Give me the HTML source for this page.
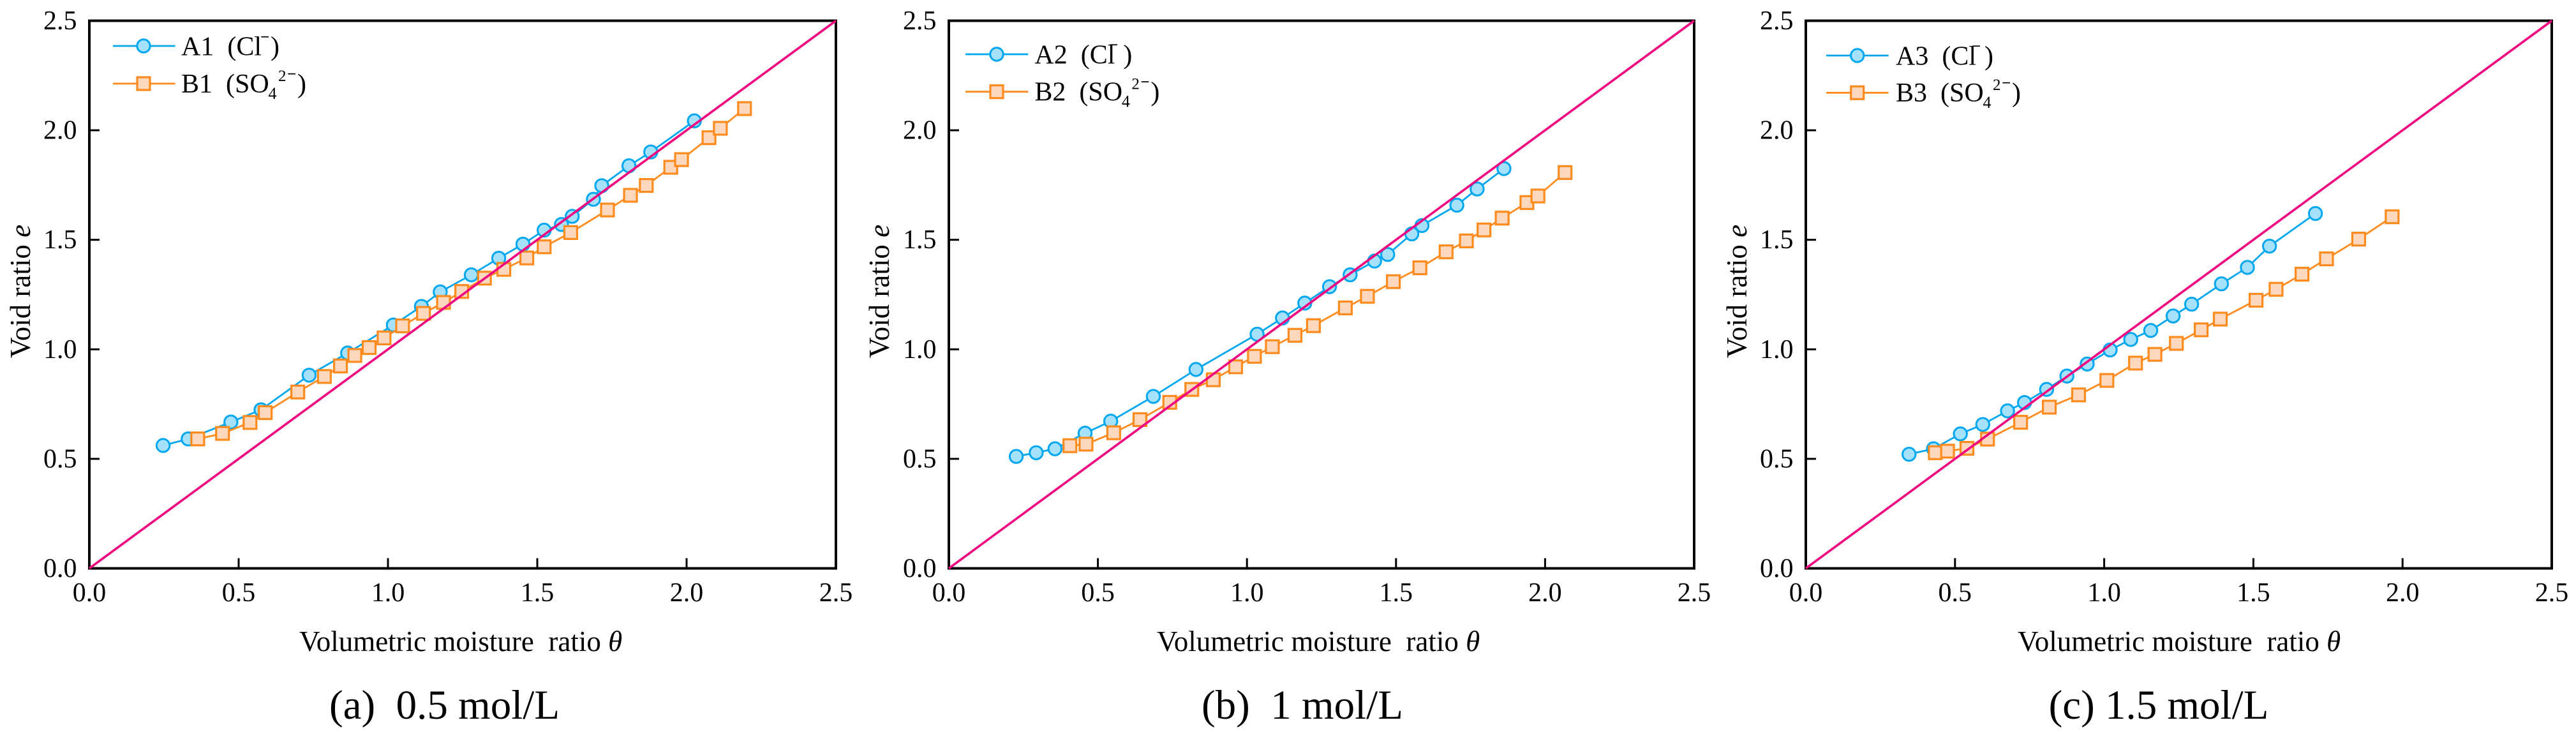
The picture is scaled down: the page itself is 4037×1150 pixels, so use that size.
<!DOCTYPE html>
<html lang="en">
<head>
<meta charset="utf-8">
<title>Void ratio vs volumetric moisture ratio</title>
<style>
html,body{margin:0;padding:0;background:#fff;}
svg{display:block;}
text{font-family:"Liberation Serif",serif;fill:#000;white-space:pre;}
.tick{font-size:42px;}
.axt{font-size:45px;}
.cap{font-size:65px;}
.leg{font-size:42px;}
.sub{font-size:26px;}
.sup{font-size:25px;}
.minus{font-size:25px;font-weight:bold;}
.frame{fill:none;stroke:#000;stroke-width:4;}
.lb{stroke:#00a7ee;stroke-width:2.8;fill:none;}
.lo{stroke:#ff8b1f;stroke-width:2.8;fill:none;}
.mb{fill:#a6e1fb;stroke:#00a7ee;stroke-width:3;}
.mo{fill:#fed8bc;stroke:#ff8b1f;stroke-width:3.2;}
</style>
</head>
<body>
<svg id="figure" xmlns="http://www.w3.org/2000/svg" width="4037" height="1150" viewBox="0 0 4037 1150">
  <rect x="0" y="0" width="4037" height="1150" fill="#fff"/>

  <!-- Panel a -->
  <g id="panel-a">
    <rect class="frame" x="140" y="32.5" width="1170" height="858"/>
    <text class="axt" transform="translate(47,561) rotate(-90)">Void ratio <tspan font-style="italic">e</tspan></text>
    <text class="axt" x="469" y="1020">Volumetric moisture  ratio <tspan font-style="italic">θ</tspan></text>
    <text class="cap" x="516" y="1126">(a)  0.5 mol/L</text>
  </g>
  <g>
    <line class="lb" x1="177" y1="72" x2="274.5" y2="72"/>
    <circle class="mb" cx="225" cy="72" r="10.2"/>
    <text class="leg" x="284" y="86.7">A1  (Cl<tspan class="minus" x="408" y="66">−</tspan><tspan x="424" y="86.7">)</tspan></text>
    <line class="lo" x1="177" y1="131" x2="274.5" y2="131"/>
    <rect class="mo" x="215" y="121" width="20" height="20"/>
    <text class="leg" x="284" y="145">B1  (SO<tspan class="sub" x="420.5" y="155">4</tspan><tspan class="sup" x="436" y="127">2</tspan><tspan class="minus" x="450" y="124">−</tspan><tspan x="466" y="145">)</tspan></text>
  </g>

  <!-- Panel b -->
  <g id="panel-b">
    <rect class="frame" x="1487" y="32.5" width="1168" height="858"/>
    <text class="axt" transform="translate(1393,561) rotate(-90)">Void ratio <tspan font-style="italic">e</tspan></text>
    <text class="axt" x="1813" y="1020">Volumetric moisture  ratio <tspan font-style="italic">θ</tspan></text>
    <text class="cap" x="1883" y="1126">(b)  1 mol/L</text>
  </g>
  <g>
    <line class="lb" x1="1513" y1="85" x2="1611.4" y2="85"/>
    <circle class="mb" cx="1562" cy="85" r="10.2"/>
    <text class="leg" x="1621.4" y="99.3">A2  (Cl<tspan class="minus" x="1738" y="78.5">−</tspan><tspan x="1760.4" y="99.3">)</tspan></text>
    <line class="lo" x1="1513" y1="143.7" x2="1611.4" y2="143.7"/>
    <rect class="mo" x="1552" y="133.7" width="20" height="20"/>
    <text class="leg" x="1621.4" y="157.7">B2  (SO<tspan class="sub" x="1757.9" y="167.7">4</tspan><tspan class="sup" x="1773.4" y="139.7">2</tspan><tspan class="minus" x="1787.4" y="136.7">−</tspan><tspan x="1803.4" y="157.7">)</tspan></text>
  </g>

  <!-- Panel c -->
  <g id="panel-c">
    <rect class="frame" x="2830" y="32.5" width="1169" height="858"/>
    <text class="axt" transform="translate(2737,561) rotate(-90)">Void ratio <tspan font-style="italic">e</tspan></text>
    <text class="axt" x="3162" y="1020">Volumetric moisture  ratio <tspan font-style="italic">θ</tspan></text>
    <text class="cap" x="3210.6" y="1126">(c) 1.5 mol/L</text>
  </g>
  <g>
    <line class="lb" x1="2862" y1="87" x2="2959.6" y2="87"/>
    <circle class="mb" cx="2910.7" cy="87" r="10.2"/>
    <text class="leg" x="2971" y="101.3">A3  (Cl<tspan class="minus" x="3090" y="80.5">−</tspan><tspan x="3110" y="101.3">)</tspan></text>
    <line class="lo" x1="2862" y1="145.3" x2="2959.6" y2="145.3"/>
    <rect class="mo" x="2900.7" y="135.3" width="20" height="20"/>
    <text class="leg" x="2971" y="159">B3  (SO<tspan class="sub" x="3107.5" y="169">4</tspan><tspan class="sup" x="3123" y="141">2</tspan><tspan class="minus" x="3137" y="138">−</tspan><tspan x="3153" y="159">)</tspan></text>
  </g>
</svg>

<script>
// Axis tick values and labels (shared by all three panels)
const tickValues = [0, 0.5, 1.0, 1.5, 2.0, 2.5];
const tickLabels = ['0.0', '0.5', '1.0', '1.5', '2.0', '2.5'];
const axisMin = 0;
const axisMax = 2.5;

// Reference line (theta = e)
const refTheta = [0, 2.5];
const refVoid = [0, 2.5];

// Panel (a) 0.5 mol/L
const a1Theta = [0.247,0.331,0.474,0.575,0.736,0.865,1.018,1.112,1.175,1.279,1.371,1.452,1.523,1.581,1.617,1.688,1.716,1.807,1.880,2.026];
const a1Void  = [0.561,0.591,0.668,0.724,0.882,0.983,1.111,1.196,1.262,1.340,1.416,1.480,1.544,1.570,1.607,1.685,1.747,1.838,1.901,2.043];
const b1Theta = [0.363,0.446,0.538,0.589,0.698,0.787,0.841,0.889,0.937,0.987,1.049,1.119,1.186,1.247,1.323,1.388,1.465,1.523,1.612,1.735,1.812,1.865,1.947,1.983,2.075,2.113,2.194];
const b1Void  = [0.591,0.616,0.666,0.711,0.805,0.876,0.924,0.972,1.008,1.052,1.107,1.164,1.214,1.264,1.325,1.365,1.417,1.468,1.533,1.636,1.703,1.748,1.831,1.866,1.966,2.009,2.099];

// Panel (b) 1 mol/L
const a2Theta = [0.226,0.293,0.356,0.457,0.543,0.686,0.829,1.034,1.119,1.194,1.277,1.346,1.428,1.472,1.553,1.587,1.704,1.772,1.862];
const a2Void  = [0.511,0.528,0.546,0.617,0.672,0.785,0.908,1.069,1.143,1.211,1.286,1.340,1.403,1.433,1.527,1.565,1.658,1.732,1.825];
const b2Theta = [0.406,0.460,0.553,0.641,0.741,0.815,0.887,0.962,1.025,1.085,1.161,1.223,1.330,1.404,1.491,1.580,1.668,1.736,1.795,1.856,1.939,1.976,2.067];
const b2Void  = [0.560,0.567,0.619,0.679,0.758,0.817,0.861,0.920,0.968,1.012,1.064,1.108,1.189,1.242,1.309,1.372,1.445,1.495,1.545,1.599,1.670,1.700,1.807];

// Panel (c) 1.5 mol/L
const a3Theta = [0.346,0.428,0.518,0.593,0.676,0.733,0.807,0.875,0.943,1.020,1.089,1.156,1.231,1.293,1.393,1.480,1.554,1.708];
const a3Void  = [0.521,0.546,0.614,0.657,0.719,0.757,0.817,0.878,0.933,0.997,1.045,1.086,1.152,1.206,1.299,1.374,1.471,1.620];
const b3Theta = [0.434,0.475,0.540,0.609,0.720,0.816,0.914,1.009,1.105,1.170,1.242,1.325,1.389,1.509,1.576,1.663,1.745,1.853,1.965];
const b3Void  = [0.528,0.535,0.548,0.590,0.667,0.736,0.792,0.858,0.937,0.977,1.027,1.089,1.138,1.224,1.274,1.343,1.413,1.503,1.605];

const NS = 'http://www.w3.org/2000/svg';

function yAt(v) {
  const top = 32.5, bottom = 890.5;
  return bottom - (v - axisMin) / (axisMax - axisMin) * (bottom - top);
}
function xScale(left, width) {
  return function (v) { return left + (v - axisMin) / (axisMax - axisMin) * width; };
}
function make(tag, parent) {
  const el = document.createElementNS(NS, tag);
  parent.appendChild(el);
  return el;
}

function drawAxes(group, xAt, id) {
  const left = xAt(axisMin);
  for (let i = 0; i < tickValues.length; i++) {
    const v = tickValues[i];
    const xLabel = make('text', group);
    xLabel.setAttribute('class', 'tick');
    xLabel.setAttribute('x', xAt(v));
    xLabel.setAttribute('y', 942);
    xLabel.setAttribute('text-anchor', 'middle');
    xLabel.textContent = tickLabels[i];
    
    

    const yLabel = make('text', group);
    yLabel.setAttribute('class', 'tick');
    yLabel.setAttribute('x', left - 19.5);
    yLabel.setAttribute('y', yAt(v) + 13.5);
    yLabel.setAttribute('text-anchor', 'end');
    yLabel.textContent = tickLabels[i];
    
    

    if (v > axisMin && v < axisMax) {
      const xTick = make('line', group);
      xTick.setAttribute('x1', xAt(v));
      xTick.setAttribute('x2', xAt(v));
      xTick.setAttribute('y1', yAt(axisMin));
      xTick.setAttribute('y2', yAt(axisMin) - 16);
      xTick.setAttribute('stroke', '#000');
      xTick.setAttribute('stroke-width', '3');
      
      

      const yTick = make('line', group);
      yTick.setAttribute('x1', left);
      yTick.setAttribute('x2', left + 16);
      yTick.setAttribute('y1', yAt(v));
      yTick.setAttribute('y2', yAt(v));
      yTick.setAttribute('stroke', '#000');
      yTick.setAttribute('stroke-width', '3');
      
      
    }
  }
}

function linePoints(xs, ys, xAt) {
  return xs.map(function (v, i) { return xAt(v).toFixed(1) + ',' + yAt(ys[i]).toFixed(1); }).join(' ');
}

function drawCircleSeries(group, xs, ys, xAt, name) {
  const line = make('polyline', group);
  line.setAttribute('class', 'lb');
  line.setAttribute('points', linePoints(xs, ys, xAt));
  
  
  for (let i = 0; i < xs.length; i++) {
    const c = make('circle', group);
    c.setAttribute('class', 'mb');
    c.setAttribute('cx', xAt(xs[i]));
    c.setAttribute('cy', yAt(ys[i]));
    c.setAttribute('r', 10.2);
    
    
  }
}

function drawSquareSeries(group, xs, ys, xAt, name) {
  const line = make('polyline', group);
  line.setAttribute('class', 'lo');
  line.setAttribute('points', linePoints(xs, ys, xAt));
  
  
  for (let i = 0; i < xs.length; i++) {
    const s = make('rect', group);
    s.setAttribute('class', 'mo');
    s.setAttribute('x', xAt(xs[i]) - 10);
    s.setAttribute('y', yAt(ys[i]) - 10);
    s.setAttribute('width', 20);
    s.setAttribute('height', 20);
    
    
  }
}

function drawRefLine(group, xAt, id) {
  const ref = make('line', group);
  ref.setAttribute('x1', xAt(refTheta[0]));
  ref.setAttribute('y1', yAt(refVoid[0]));
  ref.setAttribute('x2', xAt(refTheta[1]));
  ref.setAttribute('y2', yAt(refVoid[1]));
  ref.setAttribute('stroke', '#f0047f');
  ref.setAttribute('stroke-width', '3.6');
  
  
}

function drawPanel(id, left, width, circleX, circleY, circleName, squareX, squareY, squareName) {
  const group = document.getElementById('panel-' + id);
  const xAt = xScale(left, width);
  drawAxes(group, xAt, id);
  drawCircleSeries(group, circleX, circleY, xAt, circleName);
  drawSquareSeries(group, squareX, squareY, xAt, squareName);
  drawRefLine(group, xAt, id);
}

drawPanel('a', 140, 1170, a1Theta, a1Void, 'a1', b1Theta, b1Void, 'b1');
drawPanel('b', 1487, 1168, a2Theta, a2Void, 'a2', b2Theta, b2Void, 'b2');
drawPanel('c', 2830, 1169, a3Theta, a3Void, 'a3', b3Theta, b3Void, 'b3');
</script>
</body>
</html>
